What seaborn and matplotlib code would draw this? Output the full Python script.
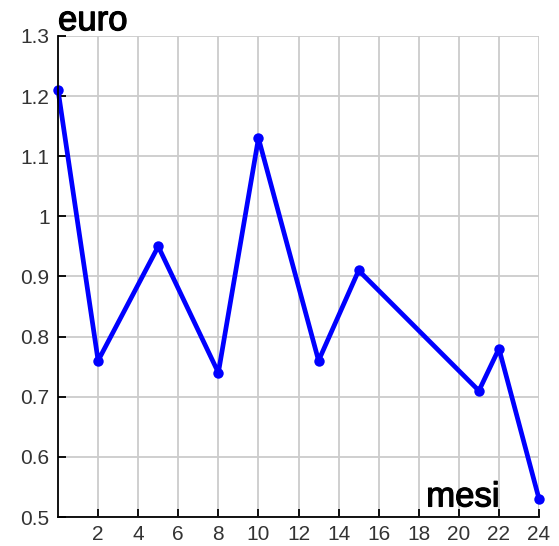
import numpy as np
import pandas as pd
import matplotlib
matplotlib.use('Agg')
import matplotlib.pyplot as plt
import matplotlib.patheffects as pe
import seaborn as sns

mesi = [0, 2, 5, 8, 10, 13, 15, 21, 22, 24]
euro = [1.21, 0.76, 0.95, 0.74, 1.13, 0.76, 0.91, 0.71, 0.78, 0.53]
x_ticks = list(range(2, 25, 2))
y_ticks = [0.5, 0.6, 0.7, 0.8, 0.9, 1, 1.1, 1.2, 1.3]
y_labels = ['0.5', '0.6', '0.7', '0.8', '0.9', '1', '1.1', '1.2', '1.3']

df = pd.DataFrame({'mesi': mesi, 'euro': euro})

sns.set_style('white')
plt.rcParams['font.family'] = ['Liberation Sans', 'DejaVu Sans']

fig = plt.figure(figsize=(5.59, 5.46), dpi=100)
ax = fig.add_axes([0.1038, 0.0531, 0.8605, 0.881])

sns.lineplot(x='mesi', y='euro', data=df, ax=ax, color='#0000ff', linewidth=3.4,
             marker='o', markersize=7.5, markeredgewidth=0, markerfacecolor='#0000ff', clip_on=False)

ax.set_xlim(0, 24)
ax.set_ylim(0.5, 1.3)
ax.set_xticks(x_ticks)
ax.set_yticks(y_ticks)
ax.set_yticklabels(y_labels)
ax.grid(True, color='#cccccc', linewidth=1.3)
ax.set_axisbelow(True)
for s in ['top', 'right']:
    ax.spines[s].set_visible(False)
for s in ['left', 'bottom']:
    ax.spines[s].set_color('black')
    ax.spines[s].set_linewidth(1.3)
ax.tick_params(direction='in', length=6, width=1.3, colors='black', labelcolor='#333333',
               labelsize=15, pad=6, left=True, bottom=True)
ax.set_xlabel('')
ax.set_ylabel('')
heavy = [pe.withStroke(linewidth=0.9, foreground='black')]
ax.text(0.0, 1.012, 'euro', transform=ax.transAxes, fontsize=25, color='black',
        ha='left', va='baseline', path_effects=heavy)
ax.text(0.918, 0.022, 'mesi', transform=ax.transAxes, fontsize=25, color='black',
        ha='right', va='baseline', path_effects=heavy)

fig.savefig('out.png', dpi=100)
